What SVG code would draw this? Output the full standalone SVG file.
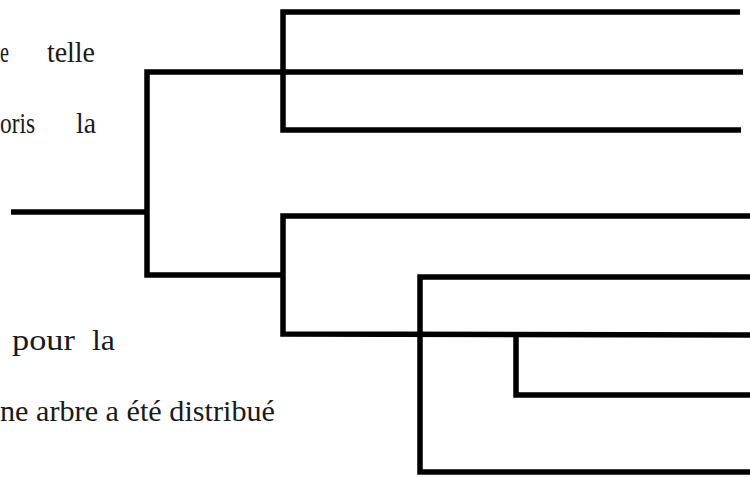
<svg xmlns="http://www.w3.org/2000/svg" width="750" height="477" viewBox="0 0 750 477">
  <style>
    .txt { font-size: 29px; fill: #1a1a1a; }
    .br { fill: none; stroke: #000; stroke-width: 5.5; stroke-linejoin: miter; stroke-linecap: butt; }
  </style>
  <rect x="0" y="0" width="750" height="477" fill="#fff"/>
  <g id="background-text" font-family="'Liberation Serif', 'Times New Roman', 'DejaVu Serif', serif">
    <text class="txt" x="0" y="62" textLength="9" lengthAdjust="spacingAndGlyphs">e</text>
    <text class="txt" x="47" y="62" textLength="48" lengthAdjust="spacingAndGlyphs">telle</text>
    <text class="txt" x="0" y="133" textLength="35" lengthAdjust="spacingAndGlyphs">oris</text>
    <text class="txt" x="76" y="133" textLength="20" lengthAdjust="spacingAndGlyphs">la</text>
    <text class="txt" x="12" y="350" textLength="63" lengthAdjust="spacingAndGlyphs">pour</text>
    <text class="txt" x="92" y="350" textLength="23" lengthAdjust="spacingAndGlyphs">la</text>
    <text class="txt" x="0" y="421" textLength="275" lengthAdjust="spacingAndGlyphs">ne arbre a été distribué</text>
  </g>
  <g id="connectors">
    <g id="root">
      <line class="br" x1="11" y1="212" x2="147" y2="212"/>
      <polyline class="br" points="743,72 147,72 147,275 283,275"/>
    </g>
    <g id="clade-top">
      <polyline class="br" points="740,12 283,12 283,130 741,130"/>
    </g>
    <g id="clade-bottom">
      <polyline class="br" points="750,216 283,216 283,334 750,335"/>
    </g>
    <g id="clade-lower">
      <polyline class="br" points="750,277 420,277 420,472 750,472"/>
    </g>
    <g id="clade-inner">
      <polyline class="br" points="516,335 516,395 750,395"/>
    </g>
  </g>
</svg>
